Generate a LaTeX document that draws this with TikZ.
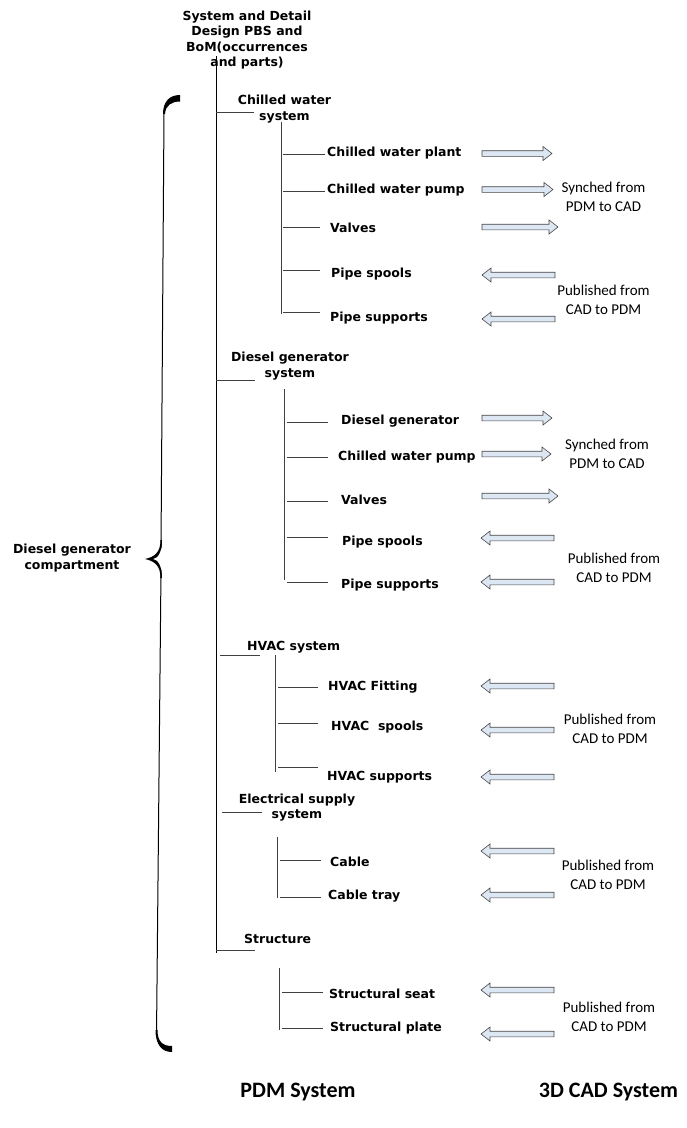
\documentclass[tikz,border=0pt]{standalone}
\usepackage{fontspec}
\setmainfont{DejaVu Sans}
\newfontfamily\notefont{Carlito}
\usepackage{xcolor}
\definecolor{arrowfill}{RGB}{221,230,243}
\definecolor{arrowline}{RGB}{70,70,70}
\newcommand{\itemfont}{\bfseries\fontsize{12.5}{15.6}\selectfont}
% block arrows: start x, end x, y
\newcommand{\pushright}[3]{\filldraw[blockarrow] (#1,#3-2.8) -- (#2-9,#3-2.8) -- (#2-9,#3-7) -- (#2,#3) -- (#2-9,#3+7) -- (#2-9,#3+2.8) -- (#1,#3+2.8) -- cycle;}
\newcommand{\pushleft}[3]{\filldraw[blockarrow] (#2,#3-2.8) -- (#1+9,#3-2.8) -- (#1+9,#3-7) -- (#1,#3) -- (#1+9,#3+7) -- (#1+9,#3+2.8) -- (#2,#3+2.8) -- cycle;}
\tikzset{
  item/.style={font=\itemfont, inner sep=0pt, anchor=base west},
  group/.style={font=\itemfont, inner sep=0pt, align=center},
  note/.style={font=\notefont\fontsize{15}{19}\selectfont, inner sep=0pt, align=center},
  sysname/.style={font=\notefont\bfseries\fontsize{22}{26}\selectfont, inner sep=0pt, anchor=base},
  trunk/.style={line width=0.9pt},
  twig/.style={line width=0.7pt, black!75},
  blockarrow/.style={fill=arrowfill, draw=arrowline, line width=0.6pt, line join=miter},
}
\begin{document}
\begin{tikzpicture}[x=1pt, y=-1pt]
  \useasboundingbox (0,0) rectangle (686,1128);

  % title and trunk
  \node[group] (title) at (247,40) {System and Detail\\Design PBS and\\BoM(occurrences\\and parts)};
  \coordinate (trunktop) at (216,56);
  \coordinate (trunkbot) at (216,953);
  \draw[trunk] (trunktop) -- (trunkbot);

  % chilled water system
  \node[group] (cws) at (284.5,109) {Chilled water\\system};
  \draw[twig] (trunktop |- 0,112) -- (254,112);
  \draw[twig] (281,122) -- (281,314);
  \node[item] (cwplant) at (327,156.5) {Chilled water plant};
  \node[item] (cwpump) at (327,193) {Chilled water pump};
  \node[item] (cwvalves) at (330,232) {Valves};
  \node[item] (cwspools) at (331,277.5) {Pipe spools};
  \node[item] (cwsupports) at (330,321.5) {Pipe supports};
  \draw[twig] (283,154) -- (325,154);
  \draw[twig] (283,191) -- (325,191);
  \draw[twig] (283,227) -- (320,227);
  \draw[twig] (283,270) -- (320,270);
  \draw[twig] (283,312) -- (320,312);
  \pushright{482}{552}{153.5}
  \pushright{482}{553}{189.5}
  \pushright{482}{558}{227}
  \pushleft{482}{555}{275}
  \pushleft{482}{555}{319}
  \node[note] (syn1) at (603.5,197) {Synched from\\PDM to CAD};
  \node[note] (pub1) at (603.5,300) {Published from\\CAD to PDM};

  % diesel generator system
  \node[group] (dgs) at (290,366) {Diesel generator\\system};
  \draw[twig] (trunktop |- 0,380) -- (255,380);
  \draw[twig] (284,389) -- (284,580);
  \node[item] (dgen) at (341,424) {Diesel generator};
  \node[item] (dgpump) at (338,460) {Chilled water pump};
  \node[item] (dgvalves) at (341,504) {Valves};
  \node[item] (dgspools) at (342,545.5) {Pipe spools};
  \node[item] (dgsupports) at (341,588.5) {Pipe supports};
  \draw[twig] (287,422) -- (328,422);
  \draw[twig] (287,457) -- (328,457);
  \draw[twig] (287,501.5) -- (328,501.5);
  \draw[twig] (287,537) -- (328,537);
  \draw[twig] (287,582) -- (328,582);
  \pushright{482}{552}{418}
  \pushright{482}{551}{454}
  \pushright{482}{558}{496}
  \pushleft{481}{554}{538}
  \pushleft{481}{554}{582}
  \node[note] (syn2) at (607,454) {Synched from\\PDM to CAD};
  \node[note] (pub2) at (614,567.5) {Published from\\CAD to PDM};

  % hvac system
  \node[item] (hvac) at (247,650) {HVAC system};
  \draw[twig] (220,655) -- (260,655);
  \draw[twig] (275,655) -- (275,772);
  \node[item] (hvfit) at (328,690) {HVAC Fitting};
  \node[item] (hvspools) at (331,730) {HVAC\ \ spools};
  \node[item] (hvsupports) at (327,780) {HVAC supports};
  \draw[twig] (278,687) -- (318,687);
  \draw[twig] (278,723) -- (318,723);
  \draw[twig] (278,767) -- (318,767);
  \pushleft{481}{554}{686}
  \pushleft{481}{554}{730}
  \pushleft{481}{554}{777}
  \node[note] (pub3) at (610,729) {Published from\\CAD to PDM};

  % electrical supply system
  \node[group] (elec) at (297,807.5) {Electrical supply\\system};
  \draw[twig] (222,812) -- (262,812);
  \draw[twig] (277,837) -- (277,898);
  \node[item] (cable) at (330,866) {Cable};
  \node[item] (ctray) at (328,899) {Cable tray};
  \draw[twig] (280,860) -- (321,860);
  \draw[twig] (280,897) -- (321,897);
  \pushleft{481}{554}{851}
  \pushleft{481}{554}{895}
  \node[note] (pub4) at (608,875) {Published from\\CAD to PDM};

  % structure
  \node[item] (struct) at (244,943) {Structure};
  \draw[twig] (trunkbot |- 0,950) -- (255,950);
  \draw[twig] (279,968) -- (279,1030);
  \node[item] (sseat) at (329,998) {Structural seat};
  \node[item] (splate) at (330,1031) {Structural plate};
  \draw[twig] (282,992) -- (323,992);
  \draw[twig] (282,1028) -- (323,1028);
  \pushleft{481}{554}{990}
  \pushleft{481}{554}{1034}
  \node[note] (pub5) at (609,1017) {Published from\\CAD to PDM};

  % compartment brace
  \fill (163,114) .. controls (163,101) and (170,95) .. (180,95) -- (180,101.5) .. controls (172,101.5) and (165.5,105) .. (165,114) -- cycle;
  \draw[line width=1pt] (164,113) -- (161,548);
  \fill (160.5,540) .. controls (160.5,553) and (154,557) .. (145,559) .. controls (154,561) and (160.5,565) .. (160.5,578) -- (162,578) .. controls (162,566) and (158,560) .. (153,559) .. controls (158,558) and (162,552) .. (162,540) -- cycle;
  \draw[line width=1pt] (161,570) -- (156.5,1036);
  \fill (155.5,1030) .. controls (155.5,1045) and (162,1052) .. (172,1052) -- (172,1046) .. controls (163,1046) and (157.5,1042) .. (157.5,1030) -- cycle;
  \node[group] (comp) at (72,558) {Diesel generator\\compartment};

  % system names
  \node[sysname] (pdm) at (298,1097) {PDM System};
  \node[sysname] (cad) at (608.5,1097) {3D CAD System};
\end{tikzpicture}
\end{document}
